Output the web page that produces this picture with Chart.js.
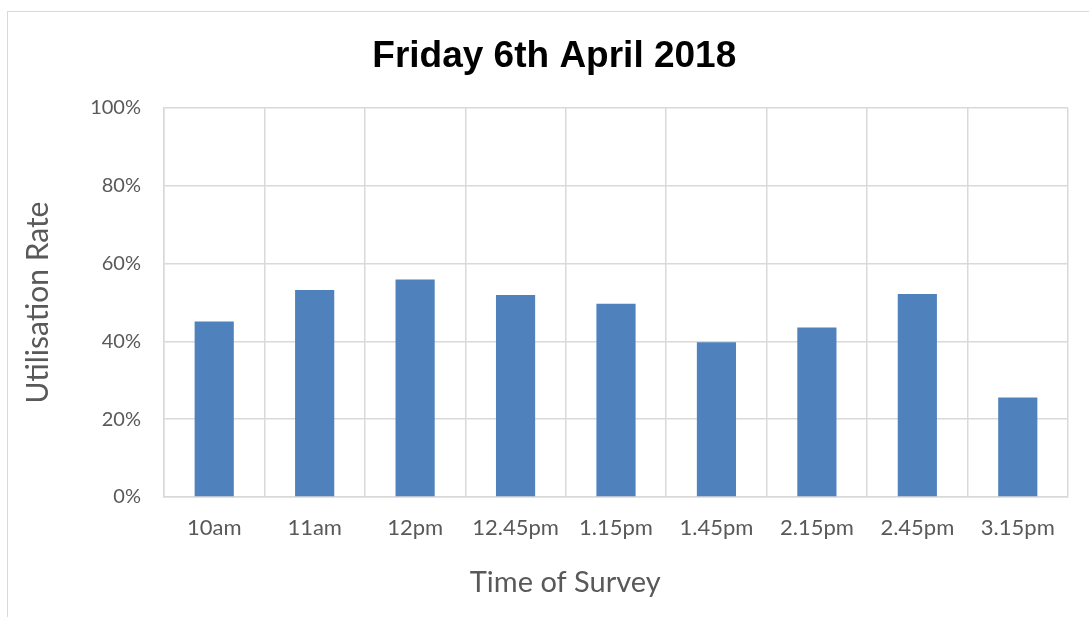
<!DOCTYPE html>
<html>
<head>
<meta charset="utf-8">
<script src="https://cdn.jsdelivr.net/npm/chart.js@4/dist/chart.umd.min.js"></script>
<style>
  html, body { margin: 0; padding: 0; background: #fff; overflow: hidden; }
  #wrap { position: relative; width: 1089px; height: 617px; }
  #frame {
    position: absolute; left: 7px; top: 11px; width: 2000px; height: 2000px;
    border-left: 1.5px solid #d9d9d9; border-top: 1.5px solid #d9d9d9;
    pointer-events: none;
  }
</style>
</head>
<body>
<div id="wrap">
  <canvas id="chart" width="1089" height="617"></canvas>
  <div id="frame"></div>
</div>
<script>
const surveyTimes = ["10am", "11am", "12pm", "12.45pm", "1.15pm", "1.45pm", "2.15pm", "2.45pm", "3.15pm"];
const utilisation = [45.1, 53.2, 55.9, 51.9, 49.7, 39.8, 43.6, 52.2, 25.6];
const yTicks = [0, 20, 40, 60, 80, 100];

const textColor = "#595959";
const gridColor = "#d9d9d9";

// the captions in the original sit a little off centre, spaces nudge them
new Chart(document.getElementById("chart"), {
    type: "bar",
    data: {
        labels: surveyTimes,
        datasets: [{
            label: "Utilisation Rate",
            data: utilisation,
            backgroundColor: "#4f81bd",
            borderWidth: 0,
            categoryPercentage: 1,
            barPercentage: 0.39
        }]
    },
    options: {
        responsive: false,
        animation: false,
        layout: { padding: { left: 20, right: 21, top: 0, bottom: 17 } },
        plugins: {
            legend: { display: false },
            tooltip: { enabled: false },
            title: {
                display: true,
                text: "\u00a0\u00a0Friday 6th April 2018",
                color: "#000",
                font: { family: "'Liberation Sans', Arial, sans-serif", size: 37, weight: "bold" },
                padding: { top: 35, bottom: 28.6 }
            }
        },
        scales: {
            x: {
                grid: { color: gridColor, lineWidth: 1.5, drawTicks: false, offset: true },
                border: { color: gridColor, width: 1.5 },
                ticks: { color: textColor, font: { family: "Lato, sans-serif", size: 22 }, padding: 18, maxRotation: 0 },
                title: {
                    display: true,
                    text: "Time of Survey\u2003\u2003\u2003\u2003\u2002",
                    color: textColor,
                    font: { family: "Lato, sans-serif", size: 29 },
                    padding: 0
                },
                afterFit: (scale) => { scale.height = 103; }
            },
            y: {
                min: 0,
                max: 100,
                afterBuildTicks: (scale) => { scale.ticks = yTicks.map(v => ({ value: v })); },
                grid: { color: gridColor, lineWidth: 1.5, drawTicks: false },
                border: { color: gridColor, width: 1.5 },
                ticks: {
                    color: textColor,
                    font: { family: "Lato, sans-serif", size: 20 },
                    padding: 23,
                    callback: (v) => v + "%"
                },
                title: {
                    display: true,
                    text: "Utilisation Rate",
                    color: textColor,
                    font: { family: "Lato, sans-serif", size: 30 },
                    padding: 0
                },
                afterFit: (scale) => { scale.width = 144; }
            }
        }
    }
});
</script>
</body>
</html>
